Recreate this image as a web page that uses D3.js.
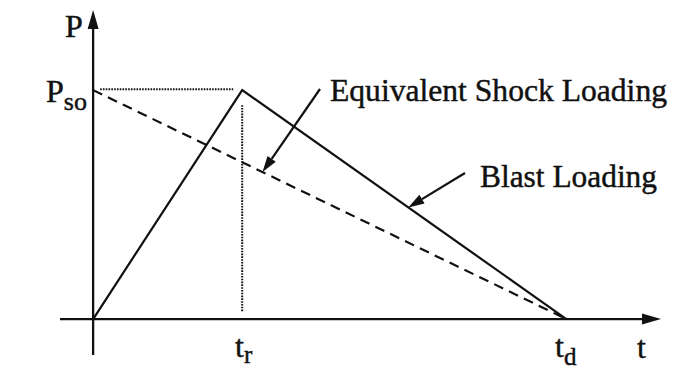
<!DOCTYPE html>
<html>
<head>
<meta charset="utf-8">
<script src="https://cdn.jsdelivr.net/npm/d3@7"></script>
<style>
  html, body { margin: 0; padding: 0; background: #fff; }
  svg { display: block; }
  text { font-family: "Liberation Serif", "Times New Roman", serif; fill: #111; stroke: #111; stroke-width: 0.45; }
</style>
</head>
<body>
<svg id="chart" width="676" height="371"></svg>
<script>
// Load history: time normalised to td = 1, pressure normalised to Pso = 1
const riseTime = 0.315;      // tr
const duration = 1.0;        // td
const peak = 1.0;            // Pso

// Blast loading: linear rise to the peak, then linear decay
const blastLoading = [
  { t: 0, p: 0 },
  { t: riseTime, p: peak },
  { t: duration, p: 0 }
];
// Equivalent shock loading: instantaneous peak, linear decay
const shockLoading = [
  { t: 0, p: peak },
  { t: duration, p: 0 }
];

const tDomain = [-0.07, 1.2];
const pDomain = [-0.157, 1.35];

// Curve labels and the time at which each leader touches its curve
const curveLabels = ["Equivalent Shock Loading", "Blast Loading"];
const leaderTimes = [0.358, 0.666];

const svg = d3.select("#chart");
const x = d3.scaleLinear().domain(tDomain).range([60, 661]);
const y = d3.scaleLinear().domain(pDomain).range([355, 10]);

const ink = "#111";
const t0 = x(0), p0 = y(0);

// Axes
svg.append("line").attr("x1", x(tDomain[0])).attr("y1", p0).attr("x2", x(tDomain[1]) - 14).attr("y2", p0)
  .attr("stroke", ink).attr("stroke-width", 2.3);
svg.append("line").attr("x1", t0).attr("y1", y(pDomain[0])).attr("x2", t0).attr("y2", y(pDomain[1]) + 14)
  .attr("stroke", ink).attr("stroke-width", 2.3);
// Axis arrowheads
svg.append("path")
  .attr("d", `M${x(tDomain[1])},${p0} L${x(tDomain[1]) - 19},${p0 - 5.5} L${x(tDomain[1]) - 19},${p0 + 5.5} Z`)
  .attr("fill", ink);
svg.append("path")
  .attr("d", `M${t0},${y(pDomain[1])} L${t0 - 5.5},${y(pDomain[1]) + 19} L${t0 + 5.5},${y(pDomain[1]) + 19} Z`)
  .attr("fill", ink);

// Guide lines to the peak
svg.append("line").attr("x1", t0 + 7).attr("y1", y(peak) - 0.8).attr("x2", x(riseTime) - 9).attr("y2", y(peak) - 0.8)
  .attr("stroke", ink).attr("stroke-width", 2).attr("stroke-dasharray", "1.6,1.2");
svg.append("line").attr("x1", x(riseTime)).attr("y1", y(peak) + 15).attr("x2", x(riseTime)).attr("y2", p0 - 7)
  .attr("stroke", ink).attr("stroke-width", 2).attr("stroke-dasharray", "1.6,1.2");

const line = d3.line().x(d => x(d.t)).y(d => y(d.p));

svg.append("path").datum(shockLoading).attr("d", line)
  .attr("fill", "none").attr("stroke", ink).attr("stroke-width", 2.2).attr("stroke-dasharray", "10,6.5");
svg.append("path").datum(blastLoading).attr("d", line)
  .attr("fill", "none").attr("stroke", ink).attr("stroke-width", 2.2).attr("stroke-linejoin", "miter");

// Leaders with filled arrowheads
function valueAt(pts, t) {
  for (let i = 1; i < pts.length; i++) {
    if (t <= pts[i].t) {
      const a = pts[i - 1], b = pts[i];
      return a.p + (b.p - a.p) * (t - a.t) / (b.t - a.t);
    }
  }
  return 0;
}
function leader(x1, y1, x2, y2) {
  const ang = Math.atan2(y2 - y1, x2 - x1);
  const len = 16, half = 5;
  const bx = x2 - len * Math.cos(ang), by = y2 - len * Math.sin(ang);
  svg.append("line").attr("x1", x1).attr("y1", y1).attr("x2", bx).attr("y2", by)
    .attr("stroke", ink).attr("stroke-width", 2.2);
  svg.append("path")
    .attr("d", `M${x2},${y2} L${bx - half * Math.sin(ang)},${by + half * Math.cos(ang)} L${bx + half * Math.sin(ang)},${by - half * Math.cos(ang)} Z`)
    .attr("fill", ink);
}
leader(320, 89, x(leaderTimes[0]), y(valueAt(shockLoading, leaderTimes[0])));
leader(465, 173, x(leaderTimes[1]), y(valueAt(blastLoading, leaderTimes[1])));

// Curve labels
svg.append("text").attr("x", 330).attr("y", 101).attr("font-size", 31.5)
  .attr("textLength", 337).attr("lengthAdjust", "spacingAndGlyphs").text(curveLabels[0]);
svg.append("text").attr("x", 480).attr("y", 187).attr("font-size", 31.5)
  .attr("textLength", 177).attr("lengthAdjust", "spacingAndGlyphs").text(curveLabels[1]);

// Axis labels
svg.append("text").attr("x", 65).attr("y", 37).attr("font-size", 32).text("P");
svg.append("text").attr("x", 637).attr("y", 358).attr("font-size", 32).text("t");

const pso = svg.append("text").attr("x", 46).attr("y", 102).attr("font-size", 32);
pso.append("tspan").text("P");
pso.append("tspan").attr("dy", 8).attr("font-size", 26).text("so");

const tr = svg.append("text").attr("x", 235).attr("y", 357).attr("font-size", 32);
tr.append("tspan").text("t");
tr.append("tspan").attr("dy", 6).attr("font-size", 25).text("r");

const td = svg.append("text").attr("x", 555).attr("y", 357).attr("font-size", 32);
td.append("tspan").text("t");
td.append("tspan").attr("dy", 8).attr("font-size", 25).text("d");
</script>
</body>
</html>
